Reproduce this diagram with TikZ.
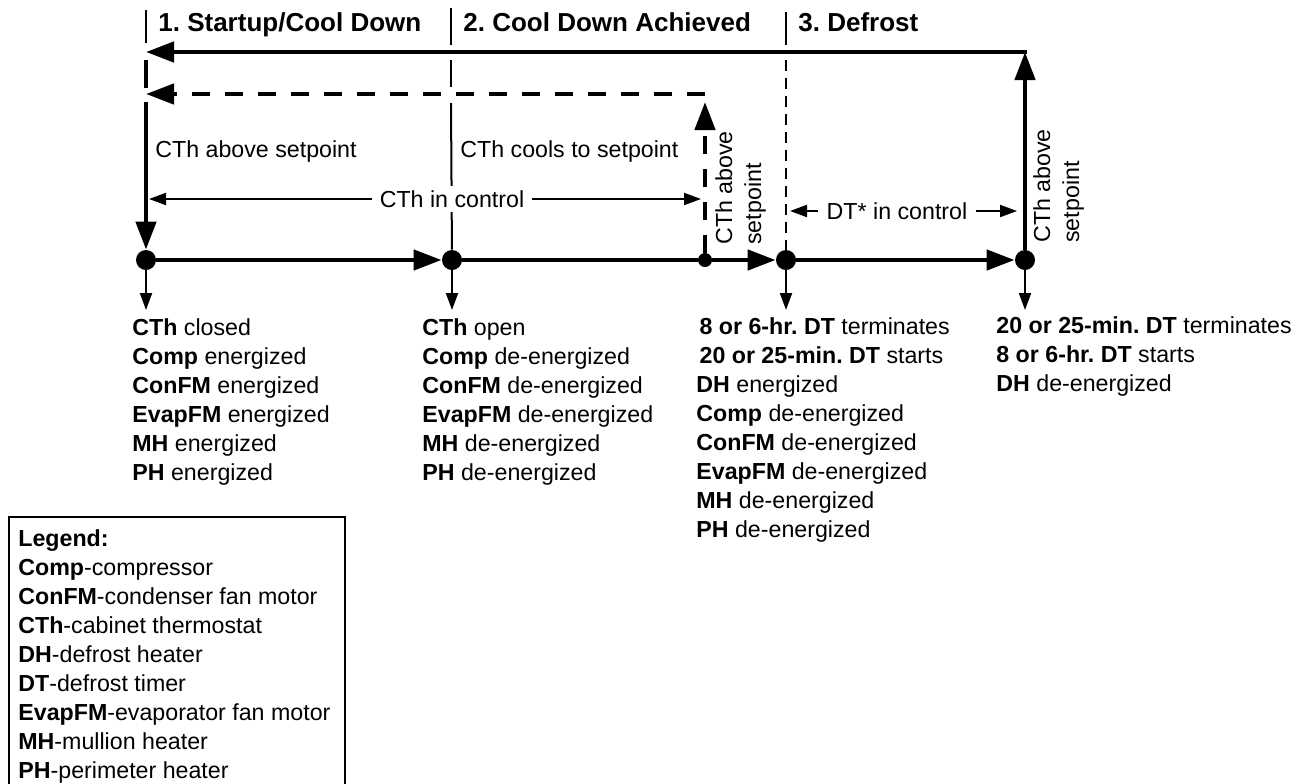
\documentclass[tikz,border=0pt]{standalone}
\usepackage{fontspec}
\setmainfont{Liberation Sans}
\usetikzlibrary{arrows.meta}
\frenchspacing

\begin{document}
\begin{tikzpicture}[x=0.5pt,y=-0.5pt,
	thickline/.style={line width=2.25pt},
	thinline/.style={line width=1pt},
	bigtip/.style={-{Triangle[length=14pt,width=10pt]}},
	smalltip/.style={-{Triangle[length=8.5pt,width=6pt]}},
	dashline/.style={dash pattern=on 9pt off 7.5pt},
	thindash/.style={dash pattern=on 5.5pt off 3.5pt},
	dot/.style={circle,fill,inner sep=0pt,minimum size=10pt},
	smalldot/.style={circle,fill,inner sep=0pt,minimum size=7pt},
	txt/.style={anchor=north west,inner sep=0pt,align=left,font=\fontsize{11.6}{14.5}\selectfont},
	hdr/.style={anchor=base west,inner sep=0pt,font=\fontsize{13}{15}\selectfont\bfseries},
	ctl/.style={fill=white,inner xsep=3.5pt,inner ysep=2pt,font=\fontsize{11.6}{14.5}\selectfont}]
	\useasboundingbox (0,0) rectangle (1316,783);

	% states on the time line
	\node[dot] (d1) at (146,260) {};
	\node[dot] (d2) at (452,260) {};
	\node[smalldot] (ds) at (705,260) {};
	\node[dot] (d3) at (786,260) {};
	\node[dot] (d4) at (1025,260) {};
	\coordinate (tr) at (1025,52);
	\coordinate (tl) at (146,52);
	\coordinate (dtr) at (705,94);
	\coordinate (dtl) at (146,94);

	% phase headers
	\draw[thinline] (146,10) -- (146,43);
	\draw[thinline] (451,8) -- (451,45);
	\draw[thinline] (786,12) -- (786,45);
	\node[hdr] (h1) at (158,31) {1. Startup/Cool Down};
	\node[hdr] (h2) at (463,31) {2. Cool Down Achieved};
	\node[hdr] (h3) at (798,31) {3. Defrost};

	% phase dividers
	\draw[thinline] (451,60) -- (451,87);
	\draw[thinline] (451,103) -- (d2);
	\draw[thinline,thindash] (786,60) -- (d3);

	% time line
	\draw[thickline,bigtip] (d1) -- (d2);
	\draw[thickline] (d2) -- (ds);
	\draw[thickline,bigtip] (ds) -- (d3);
	\draw[thickline,bigtip] (d3) -- (d4);

	% back to start
	\draw[thickline,bigtip] (d4) -- (tr);
	\draw[thickline,bigtip] ([xshift=1.1pt]tr) -- (tl);
	\draw[thickline] (146,60) -- (146,88);
	\draw[thickline,bigtip] (146,102) -- (d1);
	\draw[thickline,dashline,bigtip] (ds) -- (705,102);
	\draw[thickline,dashline,bigtip] (dtr) -- (dtl);

	\foreach \d in {d1,d2,d3,d4}
		\draw[thinline,smalltip] (\d) -- ++(0,50);

	% in control
	\node[ctl] (ctlc) at (452,199) {CTh in control};
	\coordinate (cl) at (149,199);
	\coordinate (cr) at (701,199);
	\draw[thinline,smalltip] (ctlc.west) -- (cl);
	\draw[thinline,smalltip] (ctlc.east) -- (cr);
	\node[ctl,inner xsep=4pt] (ctld) at (897,211) {DT* in control};
	\coordinate (dl) at (790,211);
	\coordinate (dr) at (1017,211);
	\draw[thinline,smalltip] (ctld.west) -- (dl);
	\draw[thinline,smalltip] (ctld.east) -- (dr);

	\node[txt,anchor=base west] (a1) at (155,157) {CTh above setpoint};
	\node[txt,anchor=base west] (a2) at (460,157) {CTh cools to setpoint};
	\node[txt,rotate=90] (a3) at (715,245) {CTh above\\setpoint};
	\node[txt,rotate=90] (a4) at (1033,243) {CTh above\\setpoint};

	% what happens at each state
	\node[txt] (s1) at (132,318) {\textbf{CTh} closed\\\textbf{Comp} energized\\\textbf{ConFM} energized\\\textbf{EvapFM} energized\\\textbf{MH} energized\\\textbf{PH} energized};
	\node[txt] (s2) at (422,318) {\textbf{CTh} open\\\textbf{Comp} de-energized\\\textbf{ConFM} de-energized\\\textbf{EvapFM} de-energized\\\textbf{MH} de-energized\\\textbf{PH} de-energized};
	\node[txt] (s3) at (696,317) {\hspace*{1.6pt}\textbf{8 or 6-hr. DT} terminates\\\hspace*{1.6pt}\textbf{20 or 25-min. DT} starts\\\textbf{DH} energized\\\textbf{Comp} de-energized\\\textbf{ConFM} de-energized\\\textbf{EvapFM} de-energized\\\textbf{MH} de-energized\\\textbf{PH} de-energized};
	\node[txt] (s4) at (996,316) {\textbf{20 or 25-min. DT} terminates\\\textbf{8 or 6-hr. DT} starts\\\textbf{DH} de-energized};

	% legend
	\draw[thinline] (9,810) -- (9,517) -- (345,517) -- (345,810);
	\node[txt] (leg) at (18,529) {\textbf{Legend:}\\\textbf{Comp}-compressor\\\textbf{ConFM}-condenser fan motor\\\textbf{CTh}-cabinet thermostat\\\textbf{DH}-defrost heater\\\textbf{DT}-defrost timer\\\textbf{EvapFM}-evaporator fan motor\\\textbf{MH}-mullion heater\\\textbf{PH}-perimeter heater};
	%\draw[thinline] (9,810) -- (345,810);
\end{tikzpicture}
\end{document}
